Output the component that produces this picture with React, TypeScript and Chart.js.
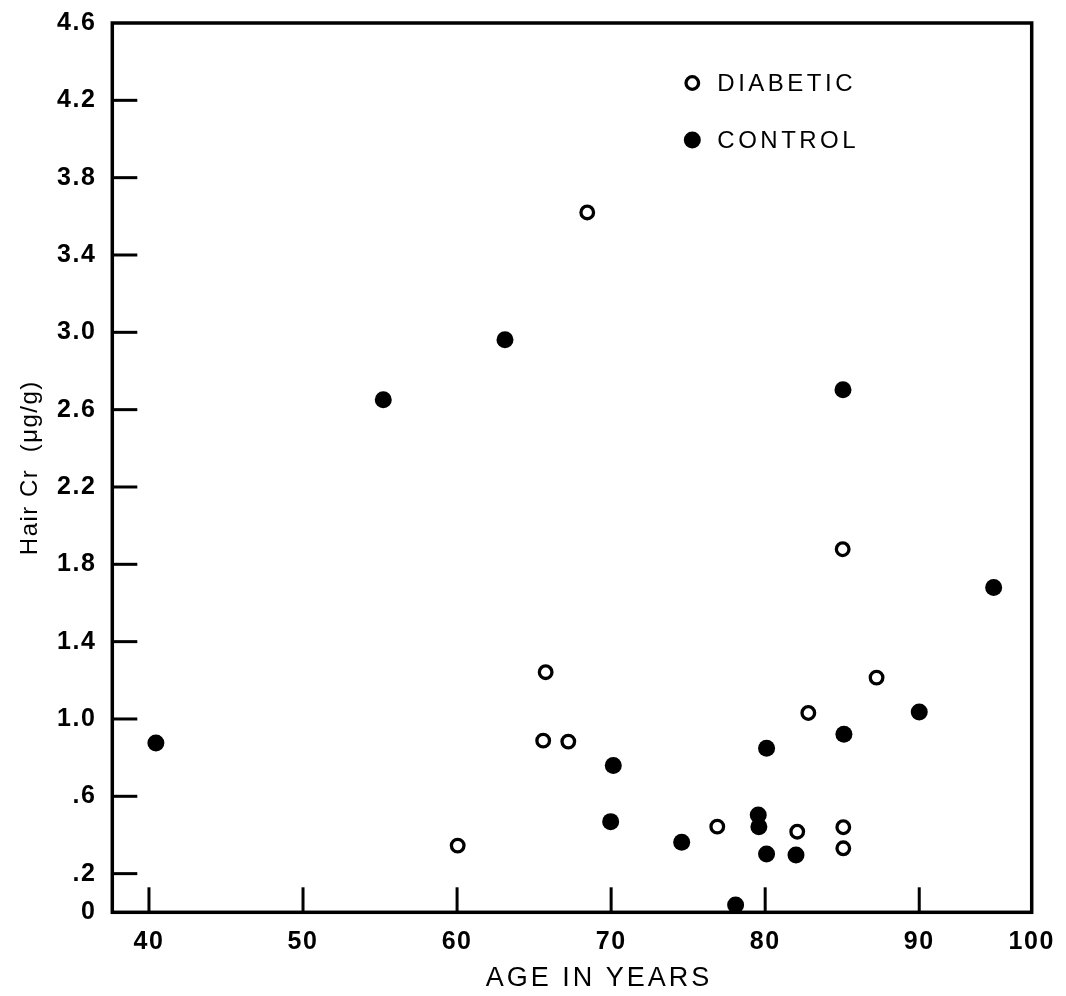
import React, { useEffect, useRef } from "react";
import { Chart, registerables } from "chart.js";

Chart.register(...registerables);

// ---- data ----
const diabeticAge = [68.45, 65.75, 65.59, 67.22, 60.04, 76.89, 82.08, 82.8, 85.03, 85.07, 85.07, 87.23];
const diabeticCr = [3.62, 1.242, 0.888, 0.883, 0.345, 0.443, 0.417, 1.031, 1.878, 0.44, 0.331, 1.214];

const controlAge = [40.45, 55.21, 63.11, 70.14, 69.97, 74.58, 78.08, 79.55, 79.59, 80.09, 80.09, 82.0, 85.05, 85.11, 90.0, 94.83];
const controlCr = [0.876, 2.651, 2.961, 0.759, 0.469, 0.362, 0.038, 0.503, 0.443, 0.849, 0.302, 0.296, 2.703, 0.921, 1.036, 1.68];

const seriesLabels = ["DIABETIC", "CONTROL"];

const xTickValues = [40, 50, 60, 70, 80, 90];
const xEndLabel = "100";
const xMin = 37.62;
const xMax = 97.3;

const yTickValues = [0, 0.2, 0.6, 1.0, 1.4, 1.8, 2.2, 2.6, 3.0, 3.4, 3.8, 4.2, 4.6];
const yTickLabels = ["0", ".2", ".6", "1.0", "1.4", "1.8", "2.2", "2.6", "3.0", "3.4", "3.8", "4.2", "4.6"];
const yMin = 0;
const yMax = 4.6;

const xTitle = "AGE IN YEARS";
const yTitle = "Hair Cr  (\u03bcg/g)";

const FONT = "'Liberation Sans', Arial, Helvetica, sans-serif";

const toPoints = (xs: number[], ys: number[]) => xs.map((x, i) => ({ x, y: ys[i] }));

const spacingPlugin = {
  id: "spacing",
  beforeDraw(chart: any) {
    (chart.ctx as any).letterSpacing = "1.5px";
  },
};

const framePlugin = {
  id: "frame",
  beforeDatasetsDraw(chart: any) {
    const { ctx, chartArea: a, scales } = chart;
    const x = scales.x;
    const y = scales.y;
    ctx.save();
    ctx.strokeStyle = "#000";
    ctx.lineWidth = 3.5;
    ctx.lineJoin = "miter";
    ctx.strokeRect(a.left, a.top, a.right - a.left, a.bottom - a.top);
    ctx.lineWidth = 3;
    ctx.lineCap = "butt";
    xTickValues.forEach((v) => {
      const px = x.getPixelForValue(v);
      ctx.beginPath();
      ctx.moveTo(px, a.bottom);
      ctx.lineTo(px, a.bottom - 25);
      ctx.stroke();
    });
    yTickValues
      .filter((v) => v > yMin && v < yMax)
      .forEach((v) => {
        const py = y.getPixelForValue(v);
        ctx.beginPath();
        ctx.moveTo(a.left, py);
        ctx.lineTo(a.left + 25, py);
        ctx.stroke();
      });
    ctx.restore();
  },
};

const annotPlugin = {
  id: "annot",
  afterDraw(chart: any) {
    const { ctx, chartArea: a } = chart;
    ctx.save();
    // x-axis title
    (ctx as any).letterSpacing = "3px";
    ctx.fillStyle = "#000";
    ctx.font = `27px ${FONT}`;
    ctx.textAlign = "center";
    ctx.textBaseline = "middle";
    ctx.fillText(xTitle, (a.left + a.right) / 2 + 27, a.bottom + 66);

    // legend inside the plot
    ctx.font = `24px ${FONT}`;
    (ctx as any).letterSpacing = "3.5px";
    ctx.textAlign = "left";
    chart.data.datasets.forEach((ds: any, i: number) => {
      const mx = a.left + 580;
      const my = a.top + 60 + i * 57;
      ctx.beginPath();
      ctx.arc(mx, my, ds.pointRadius, 0, Math.PI * 2);
      ctx.fillStyle = ds.pointBackgroundColor;
      ctx.fill();
      if (ds.pointBorderWidth > 0) {
        ctx.lineWidth = ds.pointBorderWidth;
        ctx.strokeStyle = ds.pointBorderColor;
        ctx.stroke();
      }
      ctx.fillStyle = "#000";
      ctx.fillText(ds.label, mx + 25, my + 1);
    });
    ctx.restore();
  },
};

export default function App() {
  const canvasRef = useRef<HTMLCanvasElement | null>(null);

  useEffect(() => {
    if (!canvasRef.current) return;
    Chart.defaults.font.family = FONT;
    Chart.defaults.color = "#000";
    const chart = new Chart(canvasRef.current, {
      type: "scatter",
      data: {
        datasets: [
          {
            label: seriesLabels[0],
            data: toPoints(diabeticAge, diabeticCr),
            pointRadius: 6.3,
            pointBorderWidth: 3.3,
            pointBackgroundColor: "#ffffff",
            pointBorderColor: "#000000",
            clip: false,
          } as any,
          {
            label: seriesLabels[1],
            data: toPoints(controlAge, controlCr),
            pointRadius: 8.5,
            pointBorderWidth: 0,
            pointBackgroundColor: "#000000",
            pointBorderColor: "#000000",
            clip: false,
          } as any,
        ],
      },
      options: {
        animation: false,
        responsive: false,
        devicePixelRatio: 1,
        layout: { padding: { top: 15, right: 26.3, left: 0, bottom: 0 } },
        plugins: {
          legend: { display: false },
          tooltip: { enabled: false },
        },
        scales: {
          x: {
            type: "linear",
            min: xMin,
            max: xMax,
            grid: { display: false, drawTicks: false },
            border: { display: false },
            afterBuildTicks: (scale: any) => {
              scale.ticks = [...xTickValues, xMax].map((value) => ({ value }));
            },
            afterFit: (scale: any) => {
              scale.height = 75.7;
              scale.paddingLeft = 0;
              scale.paddingRight = 0;
            },
            ticks: {
              padding: 15,
              maxRotation: 0,
              autoSkip: false,
              font: { size: 25, weight: "bold" },
              color: "#000",
              callback: (value: any) => (value === xMax ? xEndLabel : String(value)),
            },
          },
          y: {
            type: "linear",
            min: yMin,
            max: yMax,
            grid: { display: false, drawTicks: false },
            border: { display: false },
            afterBuildTicks: (scale: any) => {
              scale.ticks = yTickValues.map((value) => ({ value }));
            },
            afterFit: (scale: any) => {
              scale.width = 104.3;
              scale.paddingTop = 0;
              scale.paddingBottom = 0;
            },
            ticks: {
              padding: 16,
              autoSkip: false,
              font: { size: 25, weight: "bold" },
              color: "#000",
              callback: (value: any) => {
                const i = yTickValues.findIndex((v) => Math.abs(v - value) < 1e-9);
                return i >= 0 ? yTickLabels[i] : "";
              },
            },
            title: {
              display: true,
              text: yTitle,
              color: "#000",
              font: { size: 24 },
              padding: { top: 8, bottom: 0 },
            },
          },
        },
      } as any,
      plugins: [spacingPlugin, framePlugin, annotPlugin],
    });
    return () => chart.destroy();
  }, []);

  return (
    <div style={{ width: 1050, height: 980 }}>
      <canvas ref={canvasRef} width={1050} height={980} style={{ display: "block" }} />
    </div>
  );
}
